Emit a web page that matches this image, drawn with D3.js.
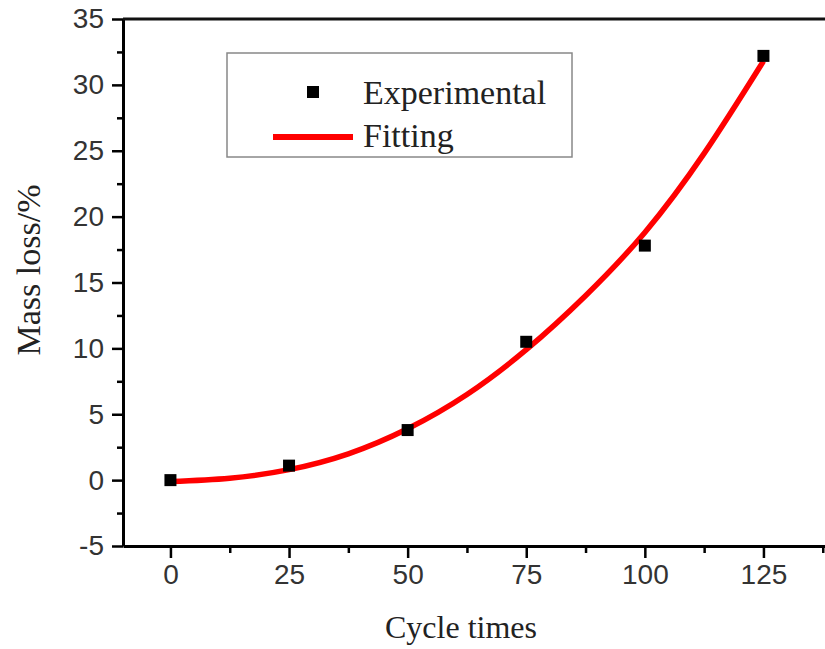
<!DOCTYPE html>
<html>
<head>
<meta charset="utf-8">
<script src="https://cdn.jsdelivr.net/npm/d3@7"></script>
<style>
    body { margin: 0; background: #fff; }
    .tick text { font-family: "Liberation Sans", Arial, sans-serif; }
</style>
</head>
<body>
<div id="chart-area"></div>
<script>
// experimental points
const cycles = [0, 25, 50, 75, 100, 125];
const massLoss = [0, 1.1, 3.8, 10.5, 17.8, 32.2];

// fitted curve
const fitCycles = [0, 12.5, 25, 37.5, 50, 62.5, 75, 87.5, 100, 112.5, 125];
const fitLoss = [-0.1, 0.15, 0.8, 2.0, 3.9, 6.5, 9.9, 14.0, 18.8, 24.8, 31.8];

const xTicks = [0, 25, 50, 75, 100, 125];
const yTicks = [-5, 0, 5, 10, 15, 20, 25, 30, 35];

const legendLabels = ['Experimental', 'Fitting'];

const WIDTH = 825, HEIGHT = 649;
const MARGIN = {top: 19, left: 123, bottom: 103};

const svg = d3.select('#chart-area').append('svg')
    .attr('width', WIDTH)
    .attr('height', HEIGHT);

const xScale = d3.scaleLinear()
    .domain([-10, 140])
    .range([MARGIN.left, MARGIN.left + 150 * 4.744]);

const yScale = d3.scaleLinear()
    .domain([-5, 35])
    .range([HEIGHT - MARGIN.bottom, MARGIN.top]);

// minor ticks first
const xMinor = d3.range(-12.5, 140, 12.5).filter(v => v > -10 && v % 25 !== 0);
const yMinor = d3.range(-2.5, 35, 5);

svg.append('g')
    .attr('transform', `translate(0, ${yScale(-5)})`)
    .call(d3.axisBottom(xScale).tickValues(xMinor).tickSize(7).tickFormat(''))
    .call(g => g.select('.domain').remove())
    .call(g => g.selectAll('line').attr('stroke-width', 2.5));

svg.append('g')
    .attr('transform', `translate(${xScale(-10)}, 0)`)
    .call(d3.axisLeft(yScale).tickValues(yMinor).tickSize(6).tickFormat(''))
    .call(g => g.select('.domain').remove())
    .call(g => g.selectAll('line').attr('stroke-width', 2.5));

// major axes (plain hyphen for negatives, like the original)
svg.append('g')
    .attr('transform', `translate(0, ${yScale(-5)})`)
    .call(d3.axisBottom(xScale).tickValues(xTicks).tickSize(12).tickSizeOuter(0).tickPadding(6).tickFormat(d => String(d)))
    .call(g => g.select('.domain').attr('stroke-width', 3))
    .call(g => g.selectAll('line').attr('stroke-width', 2.5))
    .call(g => g.selectAll('text').attr('font-size', 28).attr('fill', '#333'));

svg.append('g')
    .attr('transform', `translate(${xScale(-10)}, 0)`)
    .call(d3.axisLeft(yScale).tickValues(yTicks).tickSize(11).tickSizeOuter(0).tickPadding(8).tickFormat(d => String(d)))
    .call(g => g.select('.domain').attr('stroke-width', 3))
    .call(g => g.selectAll('line').attr('stroke-width', 2.5))
    .call(g => g.selectAll('text').attr('font-size', 28).attr('fill', '#333'));

// top frame line
svg.append('line')
    .attr('x1', xScale(-10)).attr('x2', xScale(140))
    .attr('y1', yScale(35)).attr('y2', yScale(35))
    .attr('stroke', '#111').attr('stroke-width', 3);

// fitted curve
const line = d3.line()
    .x((d, i) => xScale(fitCycles[i]))
    .y(d => yScale(d))
    .curve(d3.curveNatural);

svg.append('path')
    .datum(fitLoss)
    .attr('d', line)
    .attr('fill', 'none')
    .attr('stroke', '#ff0000')
    .attr('stroke-width', 5.5);

// experimental markers
svg.selectAll('rect.pt')
    .data(massLoss)
    .enter()
    .append('rect')
    .attr('class', 'pt')
    .attr('x', (d, i) => xScale(cycles[i]) - 6)
    .attr('y', d => yScale(d) - 6)
    .attr('width', 12)
    .attr('height', 12)
    .attr('fill', '#000');

// axis titles
svg.append('text')
    .attr('x', 461)
    .attr('y', 638)
    .attr('text-anchor', 'middle')
    .attr('font-family', '"Liberation Serif", "Times New Roman", serif')
    .attr('font-size', 32)
    .attr('fill', '#222')
    .text('Cycle times');

svg.append('text')
    .attr('transform', 'translate(40, 270) rotate(-90)')
    .attr('text-anchor', 'middle')
    .attr('font-family', '"Liberation Serif", "Times New Roman", serif')
    .attr('font-size', 34)
    .attr('fill', '#222')
    .text('Mass loss/%');

// legend
const legend = svg.append('g').attr('class', 'legend');

legend.append('rect')
    .attr('x', 227).attr('y', 53)
    .attr('width', 345).attr('height', 104)
    .attr('fill', 'none')
    .attr('stroke', '#888')
    .attr('stroke-width', 1.5);

legend.append('rect')
    .attr('x', 307).attr('y', 86)
    .attr('width', 12).attr('height', 12)
    .attr('fill', '#000');

legend.append('line')
    .attr('x1', 273).attr('x2', 353)
    .attr('y1', 137).attr('y2', 137)
    .attr('stroke', '#ff0000')
    .attr('stroke-width', 6);

legendLabels.forEach((label, i) => {
    legend.append('text')
        .attr('x', 363)
        .attr('y', 104 + i * 43)
        .attr('font-family', '"Liberation Serif", "Times New Roman", serif')
        .attr('font-size', 34)
        .attr('fill', '#222')
        .text(label);
});
</script>
</body>
</html>
